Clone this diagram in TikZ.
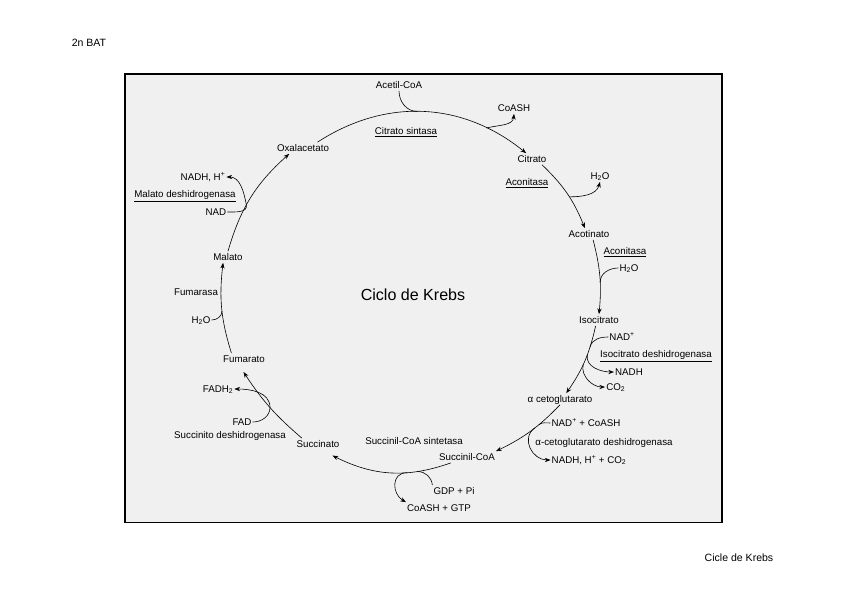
\documentclass[tikz,border=0pt]{standalone}
\usepackage{fontspec}
\setmainfont{Liberation Sans}
\usepackage{tikz}
\usetikzlibrary{arrows.meta}

\begin{document}
\begin{tikzpicture}[>={Stealth[length=2mm,width=1.5mm]},
  lbl/.style={font=\fontsize{9.7}{11}\selectfont, inner sep=1pt, text height=1.5ex, text depth=.25ex},
  rxn/.style={->, line width=.6pt},
  side/.style={line width=.6pt}]
  \useasboundingbox (-14.35,-10.815) rectangle (15.33,10.185);
  \node[font=\fontsize{10.5}{12}\selectfont] (bat) at (-11.235,8.68) {2n BAT};
  \node[font=\fontsize{10.5}{12}\selectfont] (foot) at (11.515,-9.35) {Cicle de Krebs};
  \draw[line width=1.4pt, fill=black!6] (-9.975,-8.1) rectangle (10.92,7.595);
  \node[font=\fontsize{16}{19}\selectfont] (title) at (0.105,-0.14) {Ciclo de Krebs};
  % metabolitos
  \node[lbl] (acetil) at (-0.385,7.21) {Acetil-CoA};
  \node[lbl] (oxal) at (-3.745,5.005) {Oxalacetato};
  \node[lbl] (citr) at (4.27,4.62) {Citrato};
  \node[lbl] (acot) at (6.265,1.995) {Acotinato};
  \node[lbl] (isoc) at (6.615,-1.015) {Isocitrato};
  \node[lbl] (akg) at (5.25,-3.78) {α cetoglutarato};
  \node[lbl] (succoa) at (1.995,-5.81) {Succinil-CoA};
  \node[lbl] (succ) at (-3.22,-5.355) {Succinato};
  \node[lbl] (fum) at (-5.81,-2.38) {Fumarato};
  \node[lbl] (mal) at (-6.37,1.19) {Malato};
  % enzimas
  \node[lbl] (cs) at (-0.14,5.6) {\underline{Citrato sintasa}};
  \node[lbl] (acon1) at (4.095,3.815) {\underline{Aconitasa}};
  \node[lbl] (acon2) at (7.525,1.4) {\underline{Aconitasa}};
  \node[lbl] (idh) at (8.61,-2.205) {\underline{Isocitrato deshidrogenasa}};
  \node[lbl] (akgdh) at (6.79,-5.285) {α-cetoglutarato deshidrogenasa};
  \node[lbl] (scs) at (0.14,-5.25) {Succinil-CoA sintetasa};
  \node[lbl] (sdh) at (-6.3,-5.04) {Succinito deshidrogenasa};
  \node[lbl] (fumar) at (-7.49,-0.035) {Fumarasa};
  \node[lbl] (mdh) at (-7.875,3.395) {\underline{Malato deshidrogenasa}};
  % cofactores
  \node[lbl] (coash) at (3.64,6.405) {CoASH};
  \node[lbl] (h2oa) at (6.65,4.025) {H\textsubscript{2}O};
  \node[lbl] (h2ob) at (7.665,0.805) {H\textsubscript{2}O};
  \node[lbl] (nadp) at (7.42,-1.61) {NAD\textsuperscript{+}};
  \node[lbl] (nadh) at (7.665,-2.835) {NADH};
  \node[lbl] (co2) at (7.2,-3.36) {CO\textsubscript{2}};
  \node[lbl] (nadcoa) at (6.16,-4.62) {NAD\textsuperscript{+} + CoASH};
  \node[lbl] (nadhco) at (6.265,-5.915) {NADH, H\textsuperscript{+} + CO\textsubscript{2}};
  \node[lbl] (gdp) at (1.54,-7.0) {GDP + Pi};
  \node[lbl] (cgtp) at (1.015,-7.595) {CoASH + GTP};
  \node[lbl] (fad) at (-5.88,-4.585) {FAD};
  \node[lbl] (fadh) at (-6.72,-3.43) {FADH\textsubscript{2}};
  \node[lbl] (h2oc) at (-7.315,-1.015) {H\textsubscript{2}O};
  \node[lbl] (nad) at (-6.79,2.765) {NAD};
  \node[lbl] (nadhh) at (-7.245,3.99) {NADH, H\textsuperscript{+}};
  % ciclo
  \draw[rxn] (oxal.22) to[bend left=36] coordinate[pos=.47] (jAc) coordinate[pos=.8] (jCo) (citr.135);
  \draw[side] (acetil.south) to[out=-90,in=180] (jAc);
  \draw[side,->] (jCo) to[out=15,in=-95] (coash.south);
  \draw[rxn] (citr.-30) to[bend left=12] coordinate[pos=.55] (jH1) (acot.125);
  \draw[side,->] (jH1) to[out=0,in=-105] (h2oa.south);
  \draw[rxn] (acot.-55) to[bend left=10] coordinate[pos=.58] (jH2) (isoc.north);
  \draw[side] (h2ob.west) to[out=180,in=90] (jH2);
  \draw[rxn] (isoc.-120) to[bend left=11] coordinate[pos=.28] (jN1) coordinate[pos=.4] (jN2) coordinate[pos=.56] (jC2) (akg.43);
  \draw[side] (nadp.west) to[out=180,in=75] (jN1);
  \draw[side,->] (jN2) to[out=-100,in=180] (nadh.west);
  \draw[side,->] (jC2) to[out=-100,in=180] (co2.west);
  \draw[rxn] (akg.south) to[bend left=10] coordinate[pos=.35] (jK1) coordinate[pos=.42] (jK2) (succoa.north east);
  \draw[side] (nadcoa.west) to[out=180,in=35] (jK1);
  \draw[side,->] (jK2) to[out=-145,in=180,looseness=1.3] (nadhco.west);
  \draw[rxn] (succoa.-160) to[bend left=23] coordinate[pos=.27] (jG1) coordinate[pos=.36] (jG2) ([yshift=-2mm]succ.-22);
  \draw[side] (gdp.north west) to[out=95,in=0] (jG1);
  \draw[side,->] (jG2) to[out=180,in=150,looseness=1.4] (cgtp.north west);
  \draw[rxn] (succ.160) to[bend left=8] coordinate[pos=.5] (jF) ([yshift=-2.5mm]fum.-95);
  \draw[side] (fad.east) to[out=0,in=-90] (jF);
  \draw[side,->] (jF) to[out=90,in=0] (fadh.east);
  \draw[rxn] (fum.155) to[bend left=12] coordinate[pos=.47] (jW) (mal.-130);
  \draw[side] (h2oc.east) to[out=0,in=-90] (jW);
  \draw[rxn] (mal.north) to[bend left=16] coordinate[pos=.42] (jM) (oxal.-157);
  \draw[side] (nad.east) to[out=0,in=-80] (jM);
  \draw[side,->] (jM) to[out=100,in=0] (nadhh.east);
\end{tikzpicture}
\end{document}
